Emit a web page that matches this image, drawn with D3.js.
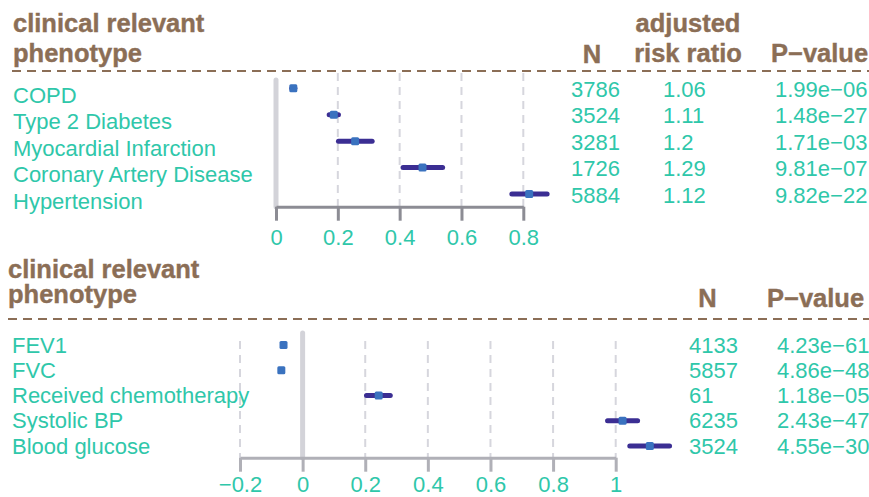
<!DOCTYPE html>
<html><head><meta charset="utf-8">
<script src="https://cdn.jsdelivr.net/npm/d3@7"></script>
<style>body{margin:0;background:#fff}svg{display:block}text{font-family:"Liberation Sans",Arial,Helvetica,sans-serif}</style>
</head><body>
<svg id="c" width="869" height="497"></svg>
<script>
// ---- data: top panel ----
const topPhenotypes = ["COPD","Type 2 Diabetes","Myocardial Infarction","Coronary Artery Disease","Hypertension"];
const topEstimate = [0.056, 0.187, 0.256, 0.474, 0.819];
const topLower    = [0.051, 0.172, 0.202, 0.411, 0.763];
const topUpper    = [0.061, 0.202, 0.311, 0.539, 0.877];
const topN        = ["3786","3524","3281","1726","5884"];
const topRR       = ["1.06","1.11","1.2","1.29","1.12"];
const topP        = ["1.99e\u221206","1.48e\u221227","1.71e\u221203","9.81e\u221207","9.82e\u221222"];
const topTicks    = [0, 0.2, 0.4, 0.6, 0.8];

// ---- data: bottom panel ----
const botPhenotypes = ["FEV1","FVC","Received chemotherapy","Systolic BP","Blood glucose"];
const botEstimate = [-0.061, -0.068, 0.243, 1.022, 1.109];
const botLower    = [-0.063, -0.070, 0.204, 0.974, 1.045];
const botUpper    = [-0.059, -0.066, 0.280, 1.070, 1.172];
const botN        = ["4133","5857","61","6235","3524"];
const botP        = ["4.23e\u221261","4.86e\u221248","1.18e\u221205","2.43e\u221247","4.55e\u221230"];
const botTicks    = [-0.2, 0, 0.2, 0.4, 0.6, 0.8, 1];

const TEAL = "#2fc7aa", BROWN = "#8b6e56", PT = "#3a72bf", CI = "#3b2e93";
const svg = d3.select("#c");
const fmt = v => (v < 0 ? "\u2212" : "") + d3.format("~g")(Math.abs(v));

function header(g, x0, y1, y2) {
  g.append("text").attr("x", x0).attr("y", y1).text("clinical relevant");
  g.append("text").attr("x", x0).attr("y", y2).text("phenotype");
}

function panel(o) {
  const g = svg.append("g");
  const x = d3.scaleLinear().domain(o.domain).range(o.range);
  const y = d3.scalePoint().domain(o.phen).range(o.yRange);

  // headers
  const hg = g.append("g").attr("fill", BROWN).attr("font-weight", "bold").attr("font-size", 25.5)
    .attr("stroke", BROWN).attr("stroke-width", 0.4);
  header(hg, o.hx, o.hy1, o.hy2);
  o.headers.forEach(h => hg.append("text").attr("x", h.x).attr("y", h.y)
      .attr("text-anchor", h.anchor || "start").text(h.t));

  // separator
  g.append("line").attr("x1", o.sepX).attr("x2", 869).attr("y1", o.sepY).attr("y2", o.sepY)
    .attr("stroke", BROWN).attr("stroke-width", 2).attr("stroke-dasharray", "9,6");

  // grid
  g.append("g").selectAll("line").data(o.ticks.filter(t => t !== 0)).join("line")
    .attr("x1", d => x(d)).attr("x2", d => x(d))
    .attr("y1", o.gridTop).attr("y2", o.axisY)
    .attr("stroke", "#d6d6dd").attr("stroke-width", 2).attr("stroke-dasharray", "8,6");

  // zero line
  g.append("line").attr("x1", x(0)).attr("x2", x(0)).attr("y1", o.zeroTop).attr("y2", o.axisY)
    .attr("stroke", "#d3d3d9").attr("stroke-width", 5).attr("stroke-linecap", "round");

  // axis
  const ax = g.append("g").attr("transform", `translate(0,${o.axisY})`)
    .call(d3.axisBottom(x).tickValues(o.ticks).tickFormat(fmt).tickSize(14).tickPadding(o.tickPad).tickSizeOuter(0));
  ax.select(".domain").attr("stroke", o.axisColor).attr("stroke-width", 3);
  ax.selectAll(".tick line").attr("stroke", o.axisColor).attr("stroke-width", 3);
  ax.selectAll(".tick text").attr("fill", TEAL).attr("font-size", 22)
    .attr("font-family", '"Liberation Sans",Arial,sans-serif');

  // CIs and points
  o.phen.forEach((p, i) => {
    g.append("line").attr("x1", x(o.lo[i])).attr("x2", x(o.hi[i]))
      .attr("y1", y(p)).attr("y2", y(p))
      .attr("stroke", CI).attr("stroke-width", 5).attr("stroke-linecap", "round");
    g.append("rect").attr("x", x(o.est[i]) - 4).attr("y", y(p) - 4)
      .attr("width", 8).attr("height", 8).attr("rx", 1.5).attr("fill", PT);
  });

  // labels
  const tg = g.append("g").attr("fill", TEAL).attr("font-size", 22);
  o.phen.forEach((p, i) => {
    tg.append("text").attr("x", o.labX).attr("y", y(p) + o.labDy).text(p);
    o.cols.forEach(c => tg.append("text").attr("x", c.x).attr("y", y(p) + o.valDy).text(c.v[i]));
  });
}

panel({
  domain: [0, 0.8], range: [276, 523.3], phen: topPhenotypes, yRange: [88.3, 194],
  est: topEstimate, lo: topLower, hi: topUpper, ticks: topTicks,
  hx: 13, hy1: 31.5, hy2: 61.5,
  headers: [{t: "N", x: 592, y: 63, anchor: "middle"},
            {t: "adjusted", x: 688, y: 31.5, anchor: "middle"},
            {t: "risk ratio", x: 688, y: 62, anchor: "middle"},
            {t: "P\u2212value", x: 771, y: 62}],
  sepX: 12, sepY: 71, gridTop: 73, zeroTop: 80, axisY: 206.7, axisColor: "#8c8c94", tickPad: 9,
  labX: 13, labDy: 14.5, valDy: 8.5,
  cols: [{x: 571, v: topN}, {x: 663, v: topRR}, {x: 775, v: topP}]
});

panel({
  domain: [-0.2, 1], range: [240, 615.7], phen: botPhenotypes, yRange: [345, 446],
  est: botEstimate, lo: botLower, hi: botUpper, ticks: botTicks,
  hx: 8, hy1: 278, hy2: 303.3,
  headers: [{t: "N", x: 707.5, y: 307, anchor: "middle"},
            {t: "P\u2212value", x: 767, y: 307}],
  sepX: 8, sepY: 319, gridTop: 341, zeroTop: 333, axisY: 457.7, axisColor: "#b0b0b7", tickPad: 5,
  labX: 12, labDy: 7.7, valDy: 7.7,
  cols: [{x: 689, v: botN}, {x: 777, v: botP}]
});
</script>
</body></html>
